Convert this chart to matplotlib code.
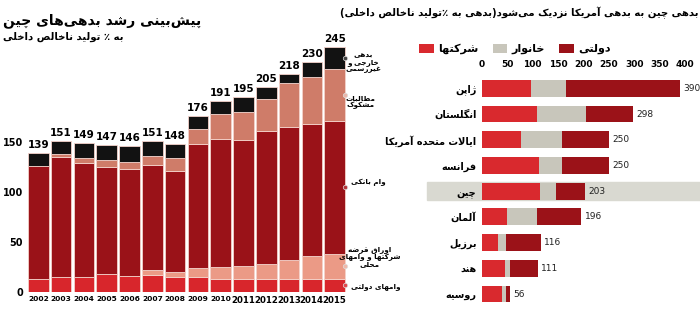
import matplotlib
matplotlib.use('Agg')
import matplotlib.pyplot as plt
from matplotlib.patches import Rectangle
from matplotlib.transforms import blended_transform_factory

plt.rcParams['font.family'] = ['DejaVu Sans']

# ---- left chart: China debt breakdown (% of GDP) ----
years = ['2002', '2003', '2004', '2005', '2006', '2007', '2008',
         '2009', '2010', '2011', '2012', '2013', '2014', '2015']
gov_bonds = [13, 15, 15, 18, 16, 17, 15, 15, 13, 13, 13, 13, 13, 13]
corp_bonds = [0, 0, 0, 0, 0, 5, 5, 9, 12, 13, 15, 19, 23, 25]
bank_loans = [113, 120, 114, 107, 107, 105, 101, 124, 128, 126, 133, 133, 132, 133]
doubtful = [0, 3, 5, 7, 7, 9, 13, 15, 25, 28, 32, 44, 47, 52]
external = [13, 13, 15, 15, 16, 15, 14, 13, 13, 15, 12, 9, 15, 22]
totals = [139, 151, 149, 147, 146, 151, 148, 176, 191, 195, 205, 218, 230, 245]

seg_names = ['وامهای دولتی', 'اوراق قرضه\nشرکتها و وامهای\nمحلی', 'وام بانکی',
             'مطالبات\nمشکوک', 'بدهی\nخارجی و\nغیررسمی']

# ---- right chart: debt by country (% of GDP) ----
countries = ['ژاپن', 'انگلستان', 'ایالات متحده آمریکا', 'فرانسه', 'چین',
             'آلمان', 'برزیل', 'هند', 'روسیه']
corporates = [97, 108, 76, 112, 114, 49, 32, 45, 39]
households = [69, 96, 82, 46, 31, 59, 16, 11, 9]
government = [224, 94, 92, 92, 58, 88, 68, 55, 8]
country_totals = [390, 298, 250, 250, 203, 196, 116, 111, 56]
legend_names = ['شرکتها', 'خانوار', 'دولتی']

title_left = 'پیش\u200cبینی رشد بدهی\u200cهای چین'
subtitle_left = 'به ٪ تولید ناخالص داخلی'
title_right = 'بدهی چین به بدهی آمریکا نزدیک می\u200cشود(بدهی به ٪تولید ناخالص داخلی)'

# minimal Persian shaping (presentation forms + visual order)
_DUAL = {'ب': 0xFE8F, 'ت': 0xFE95, 'ث': 0xFE99, 'ج': 0xFE9D, 'ح': 0xFEA1, 'خ': 0xFEA5,
         'س': 0xFEB1, 'ش': 0xFEB5, 'ص': 0xFEB9, 'ض': 0xFEBD, 'ط': 0xFEC1, 'ظ': 0xFEC5,
         'ع': 0xFEC9, 'غ': 0xFECD, 'ف': 0xFED1, 'ق': 0xFED5, 'ل': 0xFEDD, 'م': 0xFEE1,
         'ن': 0xFEE5, 'ه': 0xFEE9, 'ی': 0xFBFC, 'پ': 0xFB56, 'چ': 0xFB7A, 'ک': 0xFB8E,
         'گ': 0xFB92}
_RIGHT = {'ا': 0xFE8D, 'آ': 0xFE81, 'د': 0xFEA9, 'ذ': 0xFEAB, 'ر': 0xFEAD, 'ز': 0xFEAF,
          'ژ': 0xFB8A, 'و': 0xFEED}


def fa(text):
    out = []
    for line in text.split('\n'):
        g = []
        i = 0
        while i < len(line):
            if line[i] == 'ل' and i + 1 < len(line) and line[i + 1] == 'ا':
                g.append('لا')
                i += 2
            else:
                g.append(line[i])
                i += 1
        shaped = []
        for k, c in enumerate(g):
            prev_joins = k > 0 and g[k - 1] in _DUAL
            next_ok = k + 1 < len(g) and (g[k + 1] in _DUAL or g[k + 1] in _RIGHT or g[k + 1] == 'لا')
            if c == 'لا':
                shaped.append(chr(0xFEFC if prev_joins else 0xFEFB))
            elif c in _DUAL:
                b = _DUAL[c]
                if prev_joins and next_ok:
                    shaped.append(chr(b + 3))
                elif prev_joins:
                    shaped.append(chr(b + 1))
                elif next_ok:
                    shaped.append(chr(b + 2))
                else:
                    shaped.append(chr(b))
            elif c in _RIGHT:
                shaped.append(chr(_RIGHT[c] + (1 if prev_joins else 0)))
            elif c != '\u200c':
                shaped.append(c)
        out.append(''.join(shaped)[::-1].translate(str.maketrans('()', ')(')))
    return '\n'.join(out)


W, H = 700, 322
fig = plt.figure(figsize=(W / 100, H / 100), dpi=100)


def fx(px):
    return px / W


def fy(py):
    return 1 - py / H


# ---------------- left chart ----------------
ax = fig.add_axes([fx(27), fy(291.7), 319 / W, 262 / H])
seg_colors = ['#d8262c', '#eb9a86', '#9a1218', '#cf7c69', '#121212']
segments = [gov_bonds, corp_bonds, bank_loans, doubtful, external]
x = list(range(len(years)))
bottom = [0] * len(years)
mids = []
for vals, col in zip(segments, seg_colors):
    ax.bar(x, vals, bottom=bottom, width=0.9, color=col, edgecolor='#f4d2ca', linewidth=0.6)
    mids.append(bottom[-1] + vals[-1] / 2)
    bottom = [b + v for b, v in zip(bottom, vals)]

for i, t in enumerate(totals):
    ax.text(i, t + 2.5, str(t), ha='center', va='bottom', fontsize=7.5, fontweight='bold')

ax.set_xlim(-0.5, len(years) - 0.5)
ax.set_ylim(0, 262)
ax.set_yticks([0, 50, 100, 150])
ax.tick_params(axis='y', length=0, pad=3, labelsize=7)
for lab in ax.get_yticklabels():
    lab.set_fontweight('bold')
ax.set_xticks(x)
ax.set_xticklabels(years)
ax.tick_params(axis='x', length=0, pad=3)
for i, lab in enumerate(ax.get_xticklabels()):
    lab.set_fontsize(5.4 if i < 9 else 6.2)
    lab.set_fontweight('bold')
for s in ax.spines.values():
    s.set_visible(False)

# series labels next to last bar
dot_colors = ['#e0474c', '#f0b8aa', '#b5353a', '#e9b7ab', '#444444']
label_y = [5, 35, 109, 190, 229]
label_x = [13.72, 14.55, 13.7, 14.15, 14.25]
label_ha = ['left', 'center', 'left', 'center', 'center']
for m, dc, ly, lx, ha, name in zip(mids, dot_colors, label_y, label_x, label_ha, seg_names):
    ax.plot([len(years) - 1 + 0.46], [m], 'o', ms=3.2, color=dc, mec='#dddddd', mew=0.5, clip_on=False)
    ax.text(lx, ly, fa(name), ha=ha, va='center', fontsize=5.2, fontweight='bold',
            multialignment='center', linespacing=1.05)

fig.text(fx(3), fy(21), fa(title_left), ha='left', va='center', fontsize=10, fontweight='bold')
fig.text(fx(3), fy(37), fa(subtitle_left), ha='left', va='center', fontsize=7.3, fontweight='bold')

# ---------------- right chart ----------------
ax2 = fig.add_axes([fx(482), fy(312), 203 / W, (312 - 70.3) / H])
ax2.patch.set_visible(False)
rows = list(range(len(countries)))
r_colors = ['#d9292e', '#c8c6bb', '#9b1218']
left = [0] * len(countries)
handles = []
for vals, col in zip([corporates, households, government], r_colors):
    h = ax2.barh(rows, vals, left=left, height=0.66, color=col)
    handles.append(h)
    left = [a + b for a, b in zip(left, vals)]

for i, t in enumerate(country_totals):
    ax2.text(t + 6, i, str(t), va='center', ha='left', fontsize=6.5, color='#222222')

# highlight China row
china = countries.index('چین')
band_tr = blended_transform_factory(fig.transFigure, ax2.transData)
ax2.add_patch(Rectangle((fx(427), china - 0.36), 1 - fx(427), 0.72, transform=band_tr,
                        color='#d9d9d1', zorder=0, clip_on=False))

ax2.set_xlim(0, 400)
ax2.set_ylim(len(countries) - 0.3, -0.7)
ax2.xaxis.tick_top()
ax2.set_xticks(range(0, 401, 50))
ax2.tick_params(axis='x', length=0, pad=1, labelsize=6.5)
for lab in ax2.get_xticklabels():
    lab.set_fontweight('bold')
ax2.set_yticks(rows)
ax2.set_yticklabels([fa(c) for c in countries])
ax2.tick_params(axis='y', length=0, pad=4, labelsize=7)
for lab in ax2.get_yticklabels():
    lab.set_fontweight('bold')
for s in ax2.spines.values():
    s.set_visible(False)

fig.legend(handles, [fa(n) for n in legend_names], ncol=3, loc='center',
           bbox_to_anchor=(fx(515), fy(49)), frameon=False, handlelength=1.3,
           handleheight=0.9, handletextpad=0.4, columnspacing=1.3,
           prop={'weight': 'bold', 'size': 8})

fig.text(fx(698), fy(13), fa(title_right), ha='right', va='center', fontsize=7.3, fontweight='bold')

fig.savefig('out.png', dpi=100)
